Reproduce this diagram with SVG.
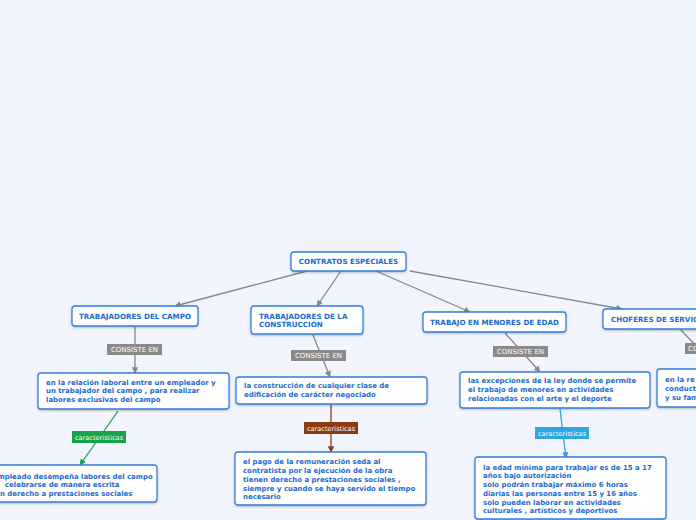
<svg xmlns="http://www.w3.org/2000/svg" width="696" height="520" viewBox="0 0 696 520">
<defs>
<filter id="sh" x="-10%" y="-20%" width="120%" height="150%"><feDropShadow dx="0" dy="1" stdDeviation="0.8" flood-color="#000" flood-opacity="0.25"/></filter>
<marker id="ag" viewBox="0 0 10 10" refX="9" refY="5" markerWidth="5" markerHeight="5" orient="auto"><path d="M0,0L10,5L0,10z" fill="#888"/></marker>
<marker id="agr" viewBox="0 0 10 10" refX="9" refY="5" markerWidth="5" markerHeight="5" orient="auto"><path d="M0,0L10,5L0,10z" fill="#16a34a"/></marker>
<marker id="abr" viewBox="0 0 10 10" refX="9" refY="5" markerWidth="5" markerHeight="5" orient="auto"><path d="M0,0L10,5L0,10z" fill="#8b3a12"/></marker>
<marker id="abl" viewBox="0 0 10 10" refX="9" refY="5" markerWidth="5" markerHeight="5" orient="auto"><path d="M0,0L10,5L0,10z" fill="#2ea6df"/></marker>
</defs>
<style>
.n{fill:#fff;stroke:#2f7fe0;stroke-width:1.3;filter:url(#sh)}
.t{font-family:"DejaVu Sans",sans-serif;font-weight:bold;font-size:6.95px;fill:#1a6bd0}
.h{font-family:"DejaVu Sans",sans-serif;font-weight:bold;font-size:7.15px;fill:#1a6bd0}
.c{stroke:#888;stroke-width:1.3;fill:none}
.lb{font-family:"DejaVu Sans",sans-serif;font-size:7px;fill:#fff;text-anchor:middle}
.lc{font-family:"DejaVu Sans",sans-serif;font-size:6.6px;fill:#fff;text-anchor:middle}
</style>
<rect width="696" height="520" fill="#f2f5fd"/>
<g id="connectors">
<line class="c" x1="307" y1="271" x2="175" y2="306" marker-end="url(#ag)"/>
<line class="c" x1="341" y1="271" x2="317" y2="306" marker-end="url(#ag)"/>
<line class="c" x1="376" y1="271" x2="470" y2="312" marker-end="url(#ag)"/>
<line class="c" x1="410" y1="271" x2="622" y2="309" marker-end="url(#ag)"/>
<line class="c" x1="135" y1="327" x2="135" y2="373" marker-end="url(#ag)"/>
<line class="c" x1="313" y1="335" x2="330" y2="377" marker-end="url(#ag)"/>
<line class="c" x1="505" y1="333" x2="540" y2="372" marker-end="url(#ag)"/>
<line class="c" x1="680" y1="329" x2="700" y2="350"/>
<line x1="118" y1="411" x2="80" y2="465" stroke="#16a34a" stroke-width="1.3" marker-end="url(#agr)"/>
<line x1="331" y1="405" x2="331" y2="452" stroke="#8b3a12" stroke-width="1.3" marker-end="url(#abr)"/>
<line x1="560" y1="409" x2="566" y2="458" stroke="#2ea6df" stroke-width="1.3" marker-end="url(#abl)"/>
<rect x="107" y="344" width="55" height="11" fill="#8a8a8a"/><text class="lb" x="134.5" y="352.2">CONSISTE EN</text>
<rect x="291" y="350" width="55" height="11" fill="#8a8a8a"/><text class="lb" x="318.5" y="358.2">CONSISTE EN</text>
<rect x="493" y="346" width="55" height="11" fill="#8a8a8a"/><text class="lb" x="520.5" y="354.2">CONSISTE EN</text>
<rect x="685" y="343" width="30" height="11" fill="#8a8a8a"/><text class="lb" x="688" y="351.2" style="text-anchor:start">CONSISTE EN</text>
<rect x="72" y="431" width="54" height="12" fill="#16a34a"/><text class="lc" x="99" y="439.5">caracteristicas</text>
<rect x="304" y="422" width="54" height="12" fill="#8b3a12"/><text class="lc" x="331" y="430.5">caracteristicas</text>
<rect x="535" y="427" width="54" height="12" fill="#2ea6df"/><text class="lc" x="562" y="435.5">caracteristicas</text>
</g>
<g id="root"><rect class="n" x="291" y="252" width="115" height="19" rx="3"/><text class="h" x="348.5" y="264.2" text-anchor="middle">CONTRATOS ESPECIALES</text></g>
<g id="campo"><rect class="n" x="72" y="306" width="126" height="20" rx="3"/><text class="h" x="135" y="318.7" text-anchor="middle">TRABAJADORES DEL CAMPO</text></g>
<g id="construccion"><rect class="n" x="251" y="306" width="112" height="28" rx="3"/><text class="h" x="259" y="318.5">TRABAJADORES DE LA</text><text class="h" x="259" y="327.3">CONSTRUCCIÓN</text></g>
<g id="menores"><rect class="n" x="423" y="312" width="143" height="20" rx="3"/><text class="h" x="494.5" y="324.7" text-anchor="middle">TRABAJO EN MENORES DE EDAD</text></g>
<g id="choferes"><rect class="n" x="603" y="309" width="110" height="20" rx="3"/><text class="h" x="611" y="321.7">CHOFERES DE SERVICIO</text></g>
<g id="campo-desc"><rect class="n" x="38" y="373" width="191" height="36" rx="3"/><text class="t" x="46" y="384.5">en la relación laboral entre un empleador y</text><text class="t" x="46" y="393">un trabajador del campo , para realizar</text><text class="t" x="46" y="401.5">labores exclusivas del campo</text></g>
<g id="construccion-desc"><rect class="n" x="236" y="377" width="191" height="27" rx="3"/><text class="t" x="244" y="388.2">la construcción de cualquier clase de</text><text class="t" x="244" y="397.2">edificación de carácter negociado</text></g>
<g id="menores-desc"><rect class="n" x="460" y="372" width="190" height="36" rx="3"/><text class="t" x="468" y="383.2">las excepciones de la ley donde se permite</text><text class="t" x="468" y="392.2">el trabajo de menores en actividades</text><text class="t" x="468" y="401.2">relacionadas con el arte y el deporte</text></g>
<g id="choferes-desc"><rect class="n" x="657" y="369" width="60" height="38" rx="3"/><text class="t" x="665" y="382">en la re</text><text class="t" x="665" y="391">conduct</text><text class="t" x="665" y="400">y su fam</text></g>
<g id="campo-car"><rect class="n" x="-10" y="465" width="167" height="37" rx="3"/><text class="t" x="-2.5" y="478.5">mpleado desempeña labores del campo</text><text class="t" x="5" y="487">celebrarse de manera escrita</text><text class="t" x="0" y="495.5">n derecho a prestaciones sociales</text></g>
<g id="construccion-car"><rect class="n" x="235" y="452" width="191" height="53" rx="3"/><text class="t" x="243" y="463.5">el pago de la remuneración  seda al</text><text class="t" x="243" y="472.5">contratista por la ejecución de la obra</text><text class="t" x="243" y="481.5">tienen derecho a prestaciones sociales ,</text><text class="t" x="243" y="490.5">siempre y cuando se haya servido el tiempo</text><text class="t" x="243" y="499">necesario</text></g>
<g id="menores-car"><rect class="n" x="475" y="457" width="191" height="62" rx="3"/><text class="t" x="483" y="469.5">la edad mínima para trabajar es de 15 a 17</text><text class="t" x="483" y="478">años bajo autorización</text><text class="t" x="483" y="487">solo podrán trabajar máximo 6 horas</text><text class="t" x="483" y="495.5">diarias las personas entre 15 y 16 años</text><text class="t" x="483" y="504.5">solo pueden laborar en actividades</text><text class="t" x="483" y="513">culturales , artísticos y deportivos</text></g>
</svg>
